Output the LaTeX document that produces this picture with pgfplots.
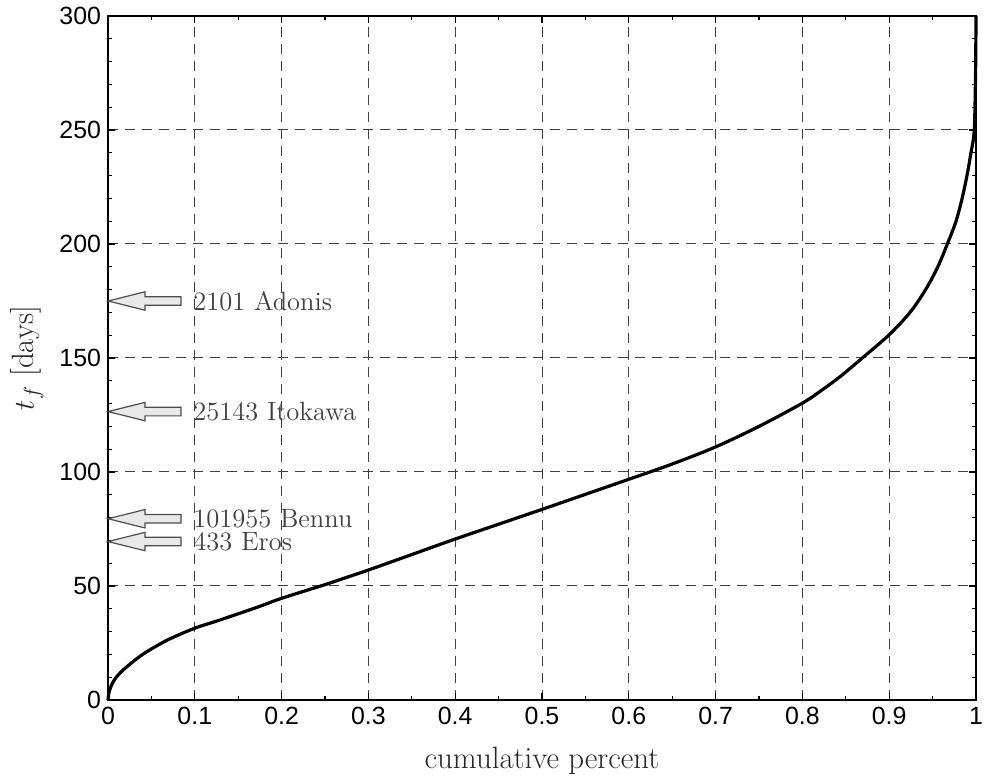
\documentclass[border=0pt]{standalone}
\usepackage{fontspec}
\setsansfont{Liberation Sans}
\usepackage{pgfplots}
\pgfplotsset{compat=1.18}
\newcommand{\astarrow}[2]{%
  \draw[fill=black!9, draw=black!70, line width=0.6bp] (axis cs:0,#1) -- ++(18.5bp,4.6bp) -- ++(0,-2.45bp) -- ++(18bp,0) -- ++(0,-4.3bp) -- ++(-18bp,0) -- ++(0,-2.45bp) -- cycle;
  \node[anchor=west, inner sep=0, text=black!75, font=\fontsize{13.3}{16}\selectfont] at (axis cs:0.098,#1) {#2};
}
\begin{document}
\begin{tikzpicture}
\begin{axis}[scale only axis, width=434bp, height=342bp,
 xmin=0, xmax=1, ymin=0, ymax=300,
 xtick={0,0.1,0.2,0.3,0.4,0.5,0.6,0.7,0.8,0.9,1},
 ytick={0,50,100,150,200,250,300},
 minor x tick num=1, minor y tick num=4,
 tick align=inside, major tick length=3.5bp, minor tick length=2bp,
 axis line style={line width=1bp},
 every tick/.style={black, line width=0.6bp},
 grid=major, major grid style={dash pattern=on 5bp off 3.5bp, line width=0.5bp, black!75},
 ticklabel style={font=\fontsize{12.5}{14}\selectfont\sffamily},
 /pgf/number format/assume math mode=true,
 xticklabel style={/pgf/number format/fixed, /pgf/number format/precision=1},
 xlabel={cumulative percent}, ylabel={$t_f$ [days]},
 label style={font=\fontsize{15.5}{18}\selectfont, text=black!85},
 xlabel style={at={(axis description cs:0.5,-0.1)}, anchor=base},
 ylabel style={at={(axis description cs:-0.0932,0.5)}, anchor=center},
 clip=false,
]
\addplot[black, line width=1.6bp, smooth, tension=0.5] coordinates {
(0,0) (0.001,3) (0.003,5.5) (0.006,8) (0.01,10.2) (0.015,12.3) (0.02,14) (0.03,17.2)
(0.04,20) (0.05,22.4) (0.07,26.6) (0.1,31.5) (0.125,34.6) (0.15,37.8) (0.175,41.1)
(0.2,44.6) (0.25,50.6) (0.275,53.8) (0.3,57) (0.35,63.8) (0.4,70.6) (0.45,77.1)
(0.5,83.6) (0.55,90.2) (0.6,96.8) (0.65,103.5) (0.7,111)
(0.75,120) (0.8,130.2) (0.822,135.8) (0.844,142) (0.869,150) (0.9,160.2) (0.924,170) (0.942,180)
(0.956,190) (0.967,200) (0.977,210) (0.984,220) (0.9896,230) (0.9942,240) (0.998,250)
(0.9995,275) (1,300)
};
\astarrow{175}{2101 Adonis}
\astarrow{126.5}{25143 Itokawa}
\astarrow{79.5}{101955 Bennu}
\astarrow{69.5}{433 Eros}
\coordinate (sw) at (rel axis cs:0,0);
\end{axis}
\pgfresetboundingbox
\path[use as bounding box] ([shift={(-54bp,-40bp)}]sw) rectangle ([shift={(438bp,350bp)}]sw);
\end{tikzpicture}
\end{document}
